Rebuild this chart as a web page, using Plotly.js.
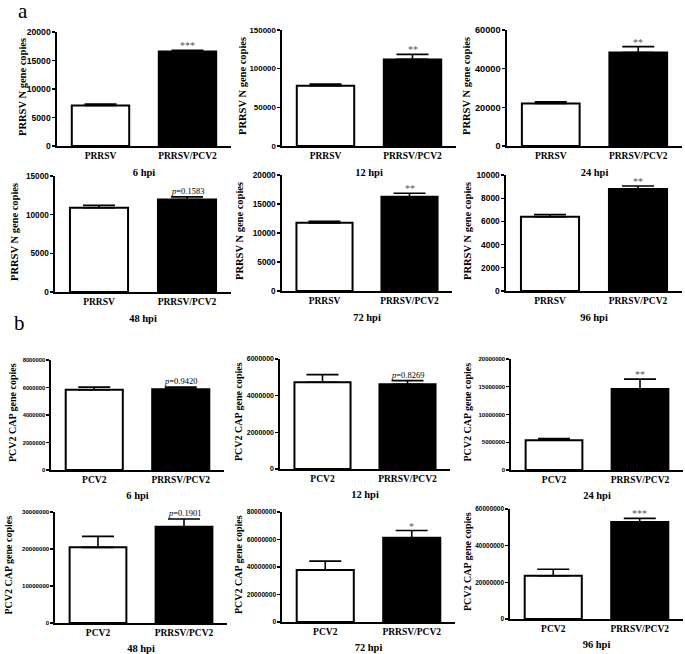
<!DOCTYPE html>
<html>
<head>
<meta charset="utf-8">
<script src="https://cdn.plot.ly/plotly-3.0.1.min.js"></script>
<style>html,body{margin:0;padding:0;background:#fff;}#chart{width:685px;height:654px;}</style>
</head>
<body>
<div id="chart"></div>
<script>
// ---------- data ----------
const timepoints = ['6 hpi', '12 hpi', '24 hpi', '48 hpi', '72 hpi', '96 hpi'];
const prrsvCats = ['PRRSV', 'PRRSV/PCV2'];
const pcv2Cats = ['PCV2', 'PRRSV/PCV2'];

const prrsvSingle    = [7100, 78000, 22000, 10900, 11750, 6400];
const prrsvSingleErr = [250, 2000, 800, 300, 250, 180];
const prrsvCoinf     = [16600, 112000, 48400, 11950, 16250, 8800];
const prrsvCoinfErr  = [200, 6500, 3000, 350, 600, 250];
const prrsvSig       = ['***', '**', '**', 'p=0.1583', '**', '**'];
const prrsvYMax      = [20000, 150000, 60000, 15000, 20000, 10000];
const prrsvDtick     = [5000, 50000, 20000, 5000, 5000, 2000];

const pcv2Single    = [5840000, 4730000, 5360000, 20450000, 37800000, 23570000];
const pcv2SingleErr = [190000, 420000, 300000, 2950000, 6500000, 3600000];
const pcv2Coinf     = [5880000, 4620000, 14580000, 26000000, 61200000, 52900000];
const pcv2CoinfErr  = [150000, 200000, 1800000, 2100000, 5300000, 2000000];
const pcv2Sig       = ['p=0.9420', 'p=0.8269', '**', 'p=0.1901', '*', '***'];
const pcv2YMax      = [8000000, 6000000, 20000000, 30000000, 80000000, 60000000];
const pcv2Dtick     = [2000000, 2000000, 5000000, 10000000, 20000000, 20000000];

// ---------- layout geometry (pixels) & per-panel styles ----------
const W = 685, H = 654;
const geomA = [
  {x0: 57, x1: 231, top: 32, bot: 146, tx: 23, fs: 8.6},
  {x0: 282, x1: 456, top: 30, bot: 146, tx: 242, fs: 7.9},
  {x0: 507, x1: 682, top: 30, bot: 146, tx: 466, fs: 9.2},
  {x0: 55, x1: 231, top: 176, bot: 292, tx: 15, fs: 8.2},
  {x0: 282, x1: 452, top: 175, bot: 291, tx: 239, fs: 8.3},
  {x0: 506, x1: 682, top: 175, bot: 291, tx: 467, fs: 8.4}
];
const geomB = [
  {x0: 51, x1: 224, top: 360, bot: 470, tx: 12, fs: 5.8},
  {x0: 280, x1: 450, top: 359, bot: 469, tx: 238, fs: 7.0},
  {x0: 511, x1: 683, top: 359, bot: 470, tx: 467, fs: 6.0},
  {x0: 55, x1: 227, top: 512, bot: 623, tx: 8, fs: 6.1},
  {x0: 282, x1: 455, top: 512, bot: 622, tx: 238, fs: 6.6},
  {x0: 510, x1: 683, top: 509, bot: 619, tx: 467, fs: 6.5}
];

const serif = 'Liberation Serif, Times New Roman, serif';
const sans = 'Liberation Sans, Arial, sans-serif';

const traces = [];
const layout = {
  width: W, height: H,
  margin: {l: 0, r: 0, t: 0, b: 0},
  paper_bgcolor: '#fff', plot_bgcolor: 'rgba(0,0,0,0)',
  showlegend: false,
  annotations: []
};

function addPanel(idx, geom, cats, v1, e1, v2, e2, sig, ymax, dtick, ytitle, ytFont, xStand) {
  const n = idx + 1;
  const xa = n === 1 ? 'x' : 'x' + n;
  const ya = n === 1 ? 'y' : 'y' + n;
  traces.push({
    type: 'bar',
    x: cats,
    y: [v1, v2],
    xaxis: xa, yaxis: ya,
    width: 0.66,
    marker: {color: ['#ffffff', '#000000'], line: {color: '#000', width: 2}},
    error_y: {type: 'data', symmetric: false, array: [e1, e2], arrayminus: [0, 0],
              color: '#000', thickness: 1.6, width: 16},
    hoverinfo: 'none'
  });
  layout['xaxis' + (n === 1 ? '' : n)] = {
    domain: [geom.x0 / W, geom.x1 / W],
    anchor: ya,
    type: 'category',
    range: [-0.5, 1.5],
    showline: true, linecolor: '#000', linewidth: 1.6,
    ticks: '', showgrid: false, zeroline: false,
    tickfont: {family: serif, size: 9.5, color: '#000', weight: 700},
    title: {text: timepoints[idx % 6], font: {family: serif, size: 10.5, color: '#000', weight: 700}, standoff: xStand}
  };
  layout['yaxis' + (n === 1 ? '' : n)] = {
    domain: [1 - geom.bot / H, 1 - geom.top / H],
    anchor: xa,
    range: [0, ymax],
    tick0: 0, dtick: dtick, tickformat: 'd',
    showline: true, linecolor: '#000', linewidth: 1.6,
    ticks: 'outside', ticklen: 3, tickwidth: 1.4, tickcolor: '#000',
    showgrid: false, zeroline: false,
    tickfont: {family: sans, size: geom.fs, color: '#000', weight: 700}
  };
  // y-axis title
  layout.annotations.push({
    xref: 'paper', yref: 'paper',
    x: geom.tx / W, y: 1 - ((geom.top + geom.bot) / 2 - 2) / H,
    text: '<b>' + ytitle + '</b>', textangle: -90, showarrow: false,
    xanchor: 'center', yanchor: 'middle',
    font: {family: serif, size: ytFont, color: '#000'}
  });
  const isP = sig.charAt(0) === 'p';
  layout.annotations.push({
    xref: xa, yref: ya, x: 1, y: v2 + e2,
    text: isP ? '<i>p</i>' + sig.slice(1) : sig,
    showarrow: false, yanchor: 'bottom', yshift: isP ? -1 : -3,
    font: {family: serif, size: isP ? 8.5 : 10, color: isP ? '#000' : '#555'}
  });
}

for (let i = 0; i < 6; i++) {
  addPanel(i, geomA[i], prrsvCats, prrsvSingle[i], prrsvSingleErr[i], prrsvCoinf[i], prrsvCoinfErr[i],
           prrsvSig[i], prrsvYMax[i], prrsvDtick[i], 'PRRSV N gene copies', 10.5, 8);
}
for (let i = 0; i < 6; i++) {
  addPanel(i + 6, geomB[i], pcv2Cats, pcv2Single[i], pcv2SingleErr[i], pcv2Coinf[i], pcv2CoinfErr[i],
           pcv2Sig[i], pcv2YMax[i], pcv2Dtick[i], 'PCV2 CAP gene copies', 10, 7);
}

layout.annotations.push(
  {xref: 'paper', yref: 'paper', x: 23 / W, y: 1 - 11 / H, text: 'a', showarrow: false,
   font: {family: serif, size: 21, color: '#000'}, xanchor: 'center', yanchor: 'middle'},
  {xref: 'paper', yref: 'paper', x: 19 / W, y: 1 - 323 / H, text: 'b', showarrow: false,
   font: {family: serif, size: 21, color: '#000'}, xanchor: 'center', yanchor: 'middle'}
);

Plotly.newPlot('chart', traces, layout, {staticPlot: true, displayModeBar: false});
</script>
</body>
</html>
